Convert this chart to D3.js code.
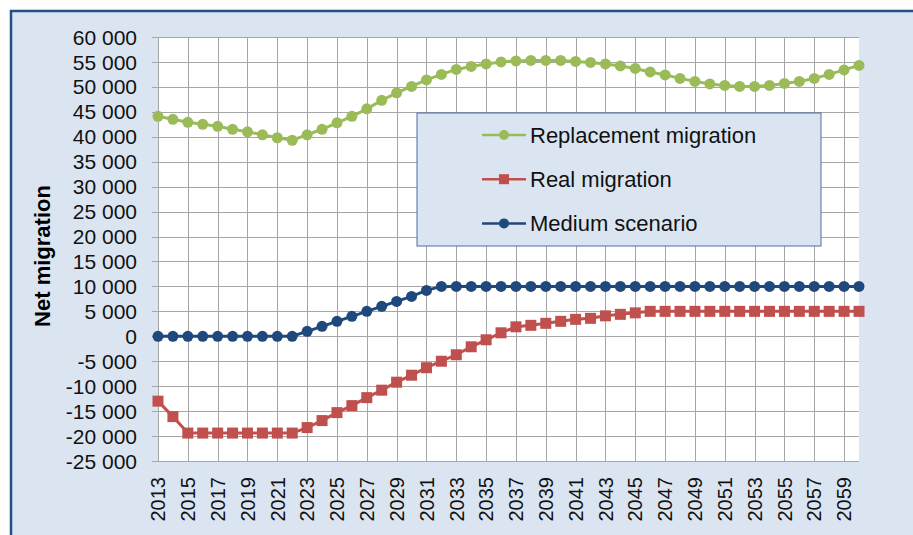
<!DOCTYPE html>
<html>
<head>
<meta charset="utf-8">
<script src="https://cdn.jsdelivr.net/npm/d3@7"></script>
<style>
  body { margin: 0; background: #fff; }
  svg text { font-family: "Liberation Sans", Arial, sans-serif; }
</style>
</head>
<body>
<div id="chart"></div>
<script>
// years on the category axis
var years = d3.range(2013, 2061);

var replacement = [44100, 43500, 42900, 42500, 42100, 41500, 41000, 40400, 39800, 39300,
  40400, 41500, 42800, 44100, 45600, 47300, 48800, 50100, 51400, 52500,
  53500, 54100, 54600, 55000, 55200, 55300, 55300, 55300, 55100, 54900,
  54600, 54200, 53700, 53000, 52400, 51700, 51100, 50600, 50300, 50100,
  50100, 50300, 50700, 51100, 51700, 52500, 53400, 54300];

var real = [-13000, -16100, -19400, -19400, -19400, -19400, -19400, -19400, -19400, -19400,
  -18300, -16900, -15300, -13900, -12300, -10800, -9200, -7800, -6300, -5000,
  -3700, -2100, -700, 700, 1900, 2200, 2600, 3000, 3400, 3600,
  4100, 4400, 4700, 5000, 5000, 5000, 5000, 5000, 5000, 5000,
  5000, 5000, 5000, 5000, 5000, 5000, 5000, 5000];

var medium = [0, 0, 0, 0, 0, 0, 0, 0, 0, 0,
  1000, 2000, 3000, 4000, 5000, 6000, 7000, 8000, 9200, 10000,
  10000, 10000, 10000, 10000, 10000, 10000, 10000, 10000, 10000, 10000,
  10000, 10000, 10000, 10000, 10000, 10000, 10000, 10000, 10000, 10000,
  10000, 10000, 10000, 10000, 10000, 10000, 10000, 10000];

var yTicks = d3.range(-25000, 60001, 5000);
var xTicks = d3.range(2013, 2060, 2);

var seriesNames = ["Replacement migration", "Real migration", "Medium scenario"];

var W = 913, H = 535;
var margin = {top: 37, left: 158, right: 54, bottom: 74};
var width = W - margin.left - margin.right,
    height = H - margin.top - margin.bottom;

var svg = d3.select("#chart").append("svg")
  .attr("width", W).attr("height", H);

// outer chart area
svg.append("rect")
  .attr("x", 11).attr("y", 11)
  .attr("width", W + 20).attr("height", H + 20)
  .attr("fill", "#dbe5f1")
  .attr("stroke", "#24508a")
  .attr("stroke-width", 2.5);

var g = svg.append("g")
  .attr("transform", "translate(" + margin.left + "," + margin.top + ")");

var x = d3.scaleLinear().domain([2013, 2060]).range([0, width]);
var y = d3.scaleLinear().domain([-25000, 60000]).range([height, 0]);

// plot area
g.append("rect")
  .attr("width", width).attr("height", height)
  .attr("fill", "#ffffff");

// gridlines
g.append("g").selectAll("line")
  .data(yTicks).enter().append("line")
  .attr("x1", -6).attr("x2", width)
  .attr("y1", function(d) { return Math.round(y(d)) + 0.5; })
  .attr("y2", function(d) { return Math.round(y(d)) + 0.5; })
  .attr("stroke", "#a6a6a6").attr("stroke-width", 1);

g.append("g").selectAll("line")
  .data(xTicks).enter().append("line")
  .attr("x1", function(d) { return Math.round(x(d)) + 0.5; })
  .attr("x2", function(d) { return Math.round(x(d)) + 0.5; })
  .attr("y1", 0).attr("y2", height)
  .attr("stroke", "#a6a6a6").attr("stroke-width", 1);

// y axis labels
var fmt = function(d) {
  var s = d3.format(",")(d).replace(/,/g, " ");
  return s.replace("−", "-");
};
g.append("g").selectAll("text")
  .data(yTicks).enter().append("text")
  .attr("x", -21)
  .attr("y", function(d) { return y(d); })
  .attr("dy", "0.36em")
  .attr("text-anchor", "end")
  .style("font-size", "21px")
  .attr("fill", "#111")
  .text(fmt);

// x axis labels
g.append("g").selectAll("text")
  .data(xTicks).enter().append("text")
  .attr("transform", function(d) {
    return "translate(" + x(d) + "," + (height + 16) + ") rotate(-90)";
  })
  .attr("dy", "0.36em")
  .attr("text-anchor", "end")
  .style("font-size", "20px")
  .attr("fill", "#111")
  .text(function(d) { return d; });

// axis title
svg.append("text")
  .attr("transform", "translate(42," + 256 + ") rotate(-90)")
  .attr("text-anchor", "middle")
  .attr("dy", "0.36em")
  .style("font-size", "22px")
  .style("font-weight", "bold")
  .text("Net migration");

// legend box
var legend = svg.append("g").attr("transform", "translate(417,113)");
legend.append("rect")
  .attr("width", 404).attr("height", 133)
  .attr("fill", "#dbe5f1")
  .attr("stroke", "#4a6fa5").attr("stroke-width", 1);

var series = [
  {name: seriesNames[0], values: replacement, color: "#9bbb59", shape: "circle"},
  {name: seriesNames[1], values: real, color: "#c0504d", shape: "square"},
  {name: seriesNames[2], values: medium, color: "#1f497d", shape: "circle"}
];

var line = d3.line()
  .x(function(d, i) { return x(years[i]); })
  .y(function(d) { return y(d); });

series.forEach(function(s) {
  g.append("path")
    .datum(s.values)
    .attr("fill", "none")
    .attr("stroke", s.color)
    .attr("stroke-width", 3)
    .attr("d", line);

  if (s.shape == "circle") {
    g.append("g").selectAll("circle")
      .data(s.values).enter().append("circle")
      .attr("cx", function(d, i) { return x(years[i]); })
      .attr("cy", function(d) { return y(d); })
      .attr("r", 5.5)
      .attr("fill", s.color);
  } else {
    g.append("g").selectAll("rect")
      .data(s.values).enter().append("rect")
      .attr("x", function(d, i) { return x(years[i]) - 5.5; })
      .attr("y", function(d) { return y(d) - 5.5; })
      .attr("width", 11).attr("height", 11)
      .attr("fill", s.color);
  }
});

// legend entries
series.forEach(function(s, i) {
  var ly = 22 + i * 44.2;
  var row = legend.append("g").attr("transform", "translate(0," + ly + ")");
  row.append("line")
    .attr("x1", 65).attr("x2", 109)
    .attr("stroke", s.color).attr("stroke-width", 2.5);
  if (s.shape == "circle") {
    row.append("circle").attr("cx", 87).attr("r", 5).attr("fill", s.color);
  } else {
    row.append("rect").attr("x", 82).attr("y", -5)
      .attr("width", 10).attr("height", 10).attr("fill", s.color);
  }
  row.append("text")
    .attr("x", 113).attr("dy", "0.36em")
    .style("font-size", "22px")
    .attr("fill", "#111")
    .text(s.name);
});
</script>
</body>
</html>
